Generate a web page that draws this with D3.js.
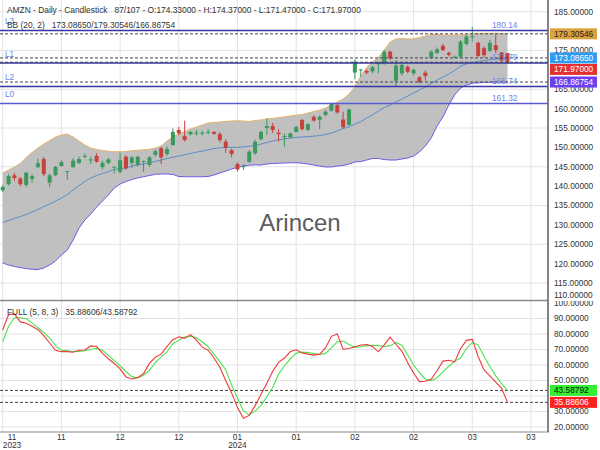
<!DOCTYPE html>
<html><head><meta charset="utf-8">
<script src="https://cdn.jsdelivr.net/npm/d3@7"></script>
<style>body{margin:0;background:#fff}svg{display:block;font-family:"Liberation Sans",Arial,sans-serif}text.pre{white-space:pre}</style>
</head><body><svg id="c" width="600" height="450"></svg>
<script>
// ---------- DATA ----------
const symbol = "AMZN";
const opens = [138.9,140.5,142.8,142.0,140.3,141.9,144.9,147.0,140.9,142.8,
145.2,143.9,144.9,146.0,147.8,146.9,147.8,144.9,146.0,145.0,
143.7,147.6,146.0,145.5,146.5,145.5,148.1,149.8,148.3,150.6,
154.5,152.9,153.4,153.8,153.8,154.0,154.0,153.4,151.5,149.3,
145.7,144.9,146.3,148.5,152.1,155.0,155.5,153.8,152.9,152.6,
154.0,157.1,154.5,157.9,157.1,158.4,159.5,160.9,157.2,155.8,
169.3,170.1,169.7,169.6,171.7,171.7,174.7,167.2,169.1,170.8,
169.1,168.1,169.3,173.2,174.4,176.2,174.4,173.4,173.4,176.7,
178.7,177.0,175.6,174.9,176.4,174.5,174.33];
const highs = [140.3,143.1,143.4,142.4,143.6,143.1,147.1,147.5,143.3,145.2,
146.7,143.9,147.2,147.6,148.5,147.6,148.5,146.6,147.3,145.1,
148.6,148.0,147.8,147.8,146.6,147.8,149.5,150.2,150.2,154.9,
155.3,156.9,154.2,154.5,154.3,154.7,154.2,154.0,152.1,149.7,
146.2,145.7,149.3,152.0,154.3,157.5,156.3,154.7,153.6,153.8,
155.6,157.3,156.3,158.3,158.3,159.6,161.5,161.5,159.2,160.0,
172.7,170.2,170.1,171.0,172.0,175.1,175.0,172.5,172.0,171.2,
170.4,168.4,169.9,175.1,175.8,176.7,174.7,173.7,177.7,179.0,
181.1,177.3,176.1,177.7,179.0,174.6,174.37];
const lows = [138.4,140.2,141.4,140.0,139.8,140.9,144.7,142.6,139.7,142.6,
145.0,141.6,144.7,145.7,147.2,145.7,146.0,144.3,145.7,143.3,
143.3,144.2,144.6,145.0,143.7,145.0,147.6,145.7,147.8,150.4,
153.1,151.5,153.1,153.1,153.1,153.4,153.3,151.2,148.6,147.5,
143.8,144.2,146.0,148.0,151.8,153.2,153.7,151.5,150.2,152.3,
153.8,154.4,154.2,156.6,154.7,158.0,159.2,158.7,154.9,155.6,
167.6,168.2,168.9,169.2,169.1,171.3,172.5,165.8,168.5,169.1,
168.5,166.5,167.2,172.9,174.1,174.8,173.5,173.1,173.0,176.3,
177.3,173.3,173.2,174.6,174.3,171.9,171.47];
const closes = [139.8,142.6,142.1,140.5,143.5,142.6,145.9,143.1,142.8,145.0,
146.2,143.9,146.6,147.0,147.8,146.9,146.3,146.0,146.9,145.0,
146.7,144.6,147.4,147.6,146.5,147.4,149.0,147.4,149.6,154.0,
153.6,151.9,154.0,153.8,153.8,154.0,153.5,151.9,149.9,148.3,
144.3,145.2,148.9,151.5,154.0,155.5,154.5,153.4,152.9,153.6,
155.3,154.7,156.0,156.9,157.9,159.2,161.2,159.0,155.2,159.8,
172.1,170.1,169.3,170.7,171.7,174.7,173.0,171.1,171.3,169.5,
170.0,166.9,168.4,174.7,175.3,175.1,173.9,173.4,177.3,178.6,
178.7,173.6,173.8,177.0,175.1,172.4,171.97];
const bbUpper = [143.39,144.16,144.94,145.84,147.39,148.68,149.84,150.87,151.77,152.68,
153.19,153.45,152.68,151.65,150.61,149.84,149.45,149.19,149.01,148.88,
148.88,148.94,149.14,149.25,149.37,149.50,149.84,150.35,151.65,152.75,
153.45,154.10,154.74,155.26,155.77,156.29,156.42,156.55,156.68,156.81,
156.88,156.81,156.68,156.94,157.06,157.32,157.50,157.71,157.89,158.10,
158.28,158.48,158.87,159.26,159.65,160.16,160.94,161.71,162.48,163.77,
165.58,168.42,170.61,172.03,173.19,175.13,177.19,177.97,178.10,177.97,
178.02,178.35,178.74,179.13,179.21,179.00,179.00,179.00,179.00,179.13,
179.26,179.36,179.44,179.44,179.44,179.39,179.30546];
const bbMiddle = [130.61,131.13,131.65,132.16,132.68,133.32,133.97,134.74,135.39,136.16,
136.94,137.84,139.00,140.16,141.19,142.10,142.74,143.26,143.77,144.29,
144.55,144.68,145.19,145.45,145.71,146.05,146.35,146.74,147.13,147.46,
147.77,148.08,148.42,148.75,149.06,149.37,149.71,149.89,149.97,149.99,
150.02,150.10,150.28,150.48,150.87,151.26,151.65,151.95,152.19,152.42,
152.60,152.68,152.78,152.88,153.06,153.32,153.71,154.23,154.87,155.26,
156.03,156.63,157.58,158.35,159.39,160.29,160.94,161.71,162.48,163.26,
164.03,164.81,165.58,166.48,167.39,168.16,168.94,169.84,171.00,171.52,
171.90,172.16,172.42,172.60,172.81,172.94,173.0865];
const bbLower = [120.16,119.65,119.26,119.00,118.74,118.54,118.48,118.87,119.65,120.68,
122.23,123.52,126.10,129.19,131.26,132.81,134.61,136.16,137.71,139.52,
140.55,141.19,141.71,142.10,142.43,142.74,143.05,143.13,143.13,143.00,
142.48,142.43,142.43,142.43,142.43,142.48,142.87,143.39,143.90,144.42,
144.86,145.19,145.40,145.50,145.45,145.71,145.84,145.89,145.97,146.02,
146.05,145.92,145.71,145.45,145.19,144.94,144.94,145.19,145.32,145.71,
146.23,146.35,146.74,147.13,147.13,146.87,146.74,146.74,147.00,147.26,
147.77,148.81,150.35,152.42,155.52,157.84,160.94,163.52,165.32,166.10,
166.54,166.66,166.75,166.82,166.86,166.87,166.86754];
const stochK = [82.6,92.5,93,87.8,87,85,82.8,79,74.2,69.5,
68.6,68.6,68.2,69.5,69.7,72.3,71.9,67.5,64,61,
57.5,52.3,51,51.8,54.5,61,65,67,72,76.3,
78.2,77.2,79.6,76,71.5,69.5,64.5,58.5,49.8,42,
32.5,25.6,27.5,33.8,41,48.2,56,61.7,64.5,68.7,
69.8,67.8,67,66.4,67,71,78.5,80,70.2,70.6,
71.8,72.9,73.2,72,68.5,73,78,73.4,69,61.5,
54.8,49.3,49.5,50.8,56.3,62.5,63.1,62,70.5,75.9,
76.5,65.5,56.8,53,49,45,35.88606];
const stochD = [75,85,90.5,90.5,89.8,87.2,84,81,77.4,72.5,
69.5,69.1,68.7,68.7,69.2,70,70.8,69.5,66.2,62.8,
59.5,55.8,52.5,51.6,53.4,56.5,61.5,65.3,68.5,73.8,
76,78,78.6,77.5,75,71.8,67,62.2,57,47,
38.5,30.5,27.8,30.2,34,39.5,45.5,54,59.5,64,
67.5,68.4,68,67.4,66.8,67.5,71,75,75.4,73.2,
71.3,71.8,72.5,72.7,72.5,71.9,72.5,74.5,72.8,66.5,
60,55,51,49.9,51.8,55.5,59.2,62.5,64.5,70.5,
74.5,73,65.5,59,53,48,43.58792];
const levelNames = ["L3","L1","L2","L0"];
const levelValues = [180.14,171.79,165.74,161.32];
const xTickIndex = [0,10,20,30,40,50,60,70,80,90];
const xTickMonths = ["11","11","12","12","01","01","02","02","03","03"];
const xTickYears = ["2023","","","","2024","","","","",""];
const priceTicks = [185,175,165,160,155,150,145,140,135,130,125,120,115,110];
const priceGrid = [115,125,135,145,155,165,175,185];
const stochTicks = [100,90,80,70,60,50,30,20];
const stochGrid = [20,30,40,50,60,70,80,90];
const totalBars = 107;

// ---------- LAYOUT ----------
const svg = d3.select("#c");
const PR = 548;
const x = d3.scaleLinear().domain([-0.46, 92.9]).range([0, PR]);
const y = d3.scaleLinear().domain([110, 185]).range([302.4, 11.75]);
const ys = d3.scaleLinear().domain([20, 100]).range([427, 303]);
const f5 = d3.format(".5f");
const idx = d3.range(closes.length);
const n = closes.length;

const defs = svg.append("defs");
defs.append("clipPath").attr("id","cp").append("rect").attr("x",0).attr("y",0).attr("width",PR).attr("height",300);
defs.append("clipPath").attr("id","cs").append("rect").attr("x",0).attr("y",301).attr("width",PR).attr("height",131);

const gridC = "#e3e3e3";
const gp = svg.append("g").attr("clip-path","url(#cp)");
const gs = svg.append("g").attr("clip-path","url(#cs)");

// grids
xTickIndex.forEach(i=>{
  gp.append("line").attr("x1",x(i)).attr("x2",x(i)).attr("y1",0).attr("y2",300).attr("stroke",gridC);
  gs.append("line").attr("x1",x(i)).attr("x2",x(i)).attr("y1",301).attr("y2",432).attr("stroke",gridC);
});
priceGrid.forEach(v=>gp.append("line").attr("x1",0).attr("x2",PR).attr("y1",y(v)).attr("y2",y(v)).attr("stroke",gridC));
stochGrid.forEach(v=>gs.append("line").attr("x1",0).attr("x2",PR).attr("y1",ys(v)).attr("y2",ys(v)).attr("stroke",gridC));

// bollinger band
gp.append("path").datum(idx).attr("fill","#c0c0c0")
  .attr("d", d3.area().x(i=>x(i)).y0(i=>y(bbLower[i])).y1(i=>y(bbUpper[i])));
gp.append("path").datum(idx).attr("fill","none").attr("stroke","#e6b46a").attr("stroke-width",1)
  .attr("d", d3.line().x(i=>x(i)).y(i=>y(bbUpper[i])));
gp.append("path").datum(idx).attr("fill","none").attr("stroke","#6a5ce6").attr("stroke-width",1)
  .attr("d", d3.line().x(i=>x(i)).y(i=>y(bbLower[i])));
gp.append("path").datum(idx).attr("fill","none").attr("stroke","#5b8ec9").attr("stroke-width",1)
  .attr("d", d3.line().x(i=>x(i)).y(i=>y(bbMiddle[i])));

// watermark
svg.append("text").attr("x",300).attr("y",231).attr("text-anchor","middle")
  .attr("font-size",24).attr("fill","#5c5c5c").text("Arincen");

// candles
const up = "#3a9a5c", dn = "#c8413b";
const cg = gp.append("g");
idx.forEach(i=>{
  const c = closes[i] >= opens[i] ? up : dn;
  cg.append("line").attr("x1",x(i)).attr("x2",x(i)).attr("y1",y(highs[i])).attr("y2",y(lows[i]))
    .attr("stroke",c).attr("stroke-width",1);
  const top = y(Math.max(opens[i],closes[i])), bot = y(Math.min(opens[i],closes[i]));
  cg.append("rect").attr("x",x(i)-2).attr("width",4).attr("y",top).attr("height",Math.max(1,bot-top)).attr("fill",c);
});

// level lines
const lvlColor = ["#3636a8","#3636a8","#3636a8","#5a5ad2"];
levelValues.forEach((v,k)=>{
  gp.append("line").attr("x1",0).attr("x2",PR).attr("y1",y(v)).attr("y2",y(v))
    .attr("stroke",lvlColor[k]).attr("stroke-width",1.5);
});

// dashed reference lines
const priceMarks = [bbUpper[n-1], bbMiddle[n-1], closes[n-1], bbLower[n-1]];
const priceMarkFill = ["#dba23e","#2f9bf2","#e53030","#6d40ee"];
const priceMarkText = ["#222","#fff","#fff","#fff"];
priceMarks.forEach(v=>gp.append("line").attr("x1",0).attr("x2",PR).attr("y1",y(v)).attr("y2",y(v))
  .attr("stroke","#444").attr("stroke-dasharray","3,2"));
const stochMarks = [stochD[n-1], stochK[n-1]];
const stochMarkFill = ["#33ee33","#ff2020"];
const stochMarkText = ["#111","#fff"];
stochMarks.forEach(v=>gs.append("line").attr("x1",0).attr("x2",PR).attr("y1",ys(v)).attr("y2",ys(v))
  .attr("stroke","#444").attr("stroke-dasharray","3,2"));

// stochastic lines
gs.append("path").datum(idx).attr("fill","none").attr("stroke","#4ee04e").attr("stroke-width",1.1)
  .attr("d", d3.line().x(i=>x(i)).y(i=>ys(stochD[i])));
gs.append("path").datum(idx).attr("fill","none").attr("stroke","#ee3a3a").attr("stroke-width",1.1)
  .attr("d", d3.line().x(i=>x(i)).y(i=>ys(stochK[i])));

// level labels
const lvlText = "#6a86e6";
levelValues.forEach((v,k)=>{
  svg.append("text").attr("x",5).attr("y",y(v)-9).attr("dy","0.35em").attr("font-size",8.3)
    .attr("fill",lvlText).text(levelNames[k]);
  svg.append("text").attr("x",492).attr("y",y(v)-5.5).attr("dy","0.35em").attr("font-size",8.3)
    .attr("fill",lvlText).text(d3.format(".2f")(v));
});

// panel frames
svg.append("line").attr("x1",0).attr("x2",PR).attr("y1",300.5).attr("y2",300.5).attr("stroke","#8a8a8a").attr("stroke-width",1.5);
svg.append("line").attr("x1",0).attr("x2",PR+1).attr("y1",432).attr("y2",432).attr("stroke","#8a8a8a").attr("stroke-width",1.2);
svg.append("line").attr("x1",PR).attr("x2",PR).attr("y1",0).attr("y2",432).attr("stroke","#666").attr("stroke-width",1.6);

// header texts (multiple spaces preserved)
const hdr = svg.append("g").attr("font-size",8.4).attr("fill","#333");
function preText(g, xx, yy, str){
  g.append("text").attr("class","pre").attr("xml:space","preserve").style("white-space","pre")
    .attr("x",xx).attr("y",yy).attr("dy","0.35em").text(str);
}
preText(hdr, 7, 10, `${symbol} - Daily - Candlestick   ${n}/${totalBars} - O:${f5(opens[n-1])} - H:${f5(highs[n-1])} - L:${f5(lows[n-1])} - C:${f5(closes[n-1])}`);
preText(hdr, 7, 25, `BB (20, 2)   ${f5(bbMiddle[n-1])}/${f5(bbUpper[n-1])}/${f5(bbLower[n-1])}`);
preText(hdr, 7, 312, `FULL (5, 8, 3)   ${f5(stochK[n-1])}/${f5(stochD[n-1])}`);

// right axis tick labels
const ax = svg.append("g").attr("font-size",8.3).attr("fill","#333");
priceTicks.forEach(v=>{
  ax.append("text").attr("x",554).attr("y",Math.min(y(v),295)).attr("dy","0.35em").text(f5(v));
});
const axs = svg.append("g").attr("font-size",8.3).attr("fill","#333");
stochTicks.forEach(v=>{
  axs.append("text").attr("x",554).attr("y",ys(v)).attr("dy","0.35em").text(f5(v));
});
defs.append("clipPath").attr("id","cax").append("rect").attr("x",549).attr("y",301).attr("width",51).attr("height",149);
axs.attr("clip-path","url(#cax)");

// marker boxes with collision avoidance
function boxes(vals, scale, fills, texts){
  const items = vals.map((v,k)=>({v,k,yy:scale(v)})).sort((a,b)=>a.yy-b.yy);
  for(let j=1;j<items.length;j++){ if(items[j].yy < items[j-1].yy+11.5) items[j].yy = items[j-1].yy+11.5; }
  items.forEach(it=>{
    svg.append("rect").attr("x",550).attr("y",it.yy-5.5).attr("width",47).attr("height",11).attr("fill",fills[it.k]);
    svg.append("text").attr("x",554).attr("y",it.yy).attr("dy","0.35em").attr("font-size",8.3)
      .attr("fill",texts[it.k]).text(f5(it.v));
  });
}
boxes(priceMarks, y, priceMarkFill, priceMarkText);
boxes(stochMarks, ys, stochMarkFill, stochMarkText);

// x axis labels
const xa = svg.append("g").attr("font-size",8.3).attr("fill","#333").attr("text-anchor","middle");
xTickIndex.forEach((i,k)=>{
  const xx = Math.max(x(i), 12);
  xa.append("text").attr("x",xx).attr("y",437.5).attr("dy","0.35em").text(xTickMonths[k]);
  if (xTickYears[k]) xa.append("text").attr("x",xx).attr("y",445.5).attr("dy","0.35em").text(xTickYears[k]);
});
</script></body></html>
